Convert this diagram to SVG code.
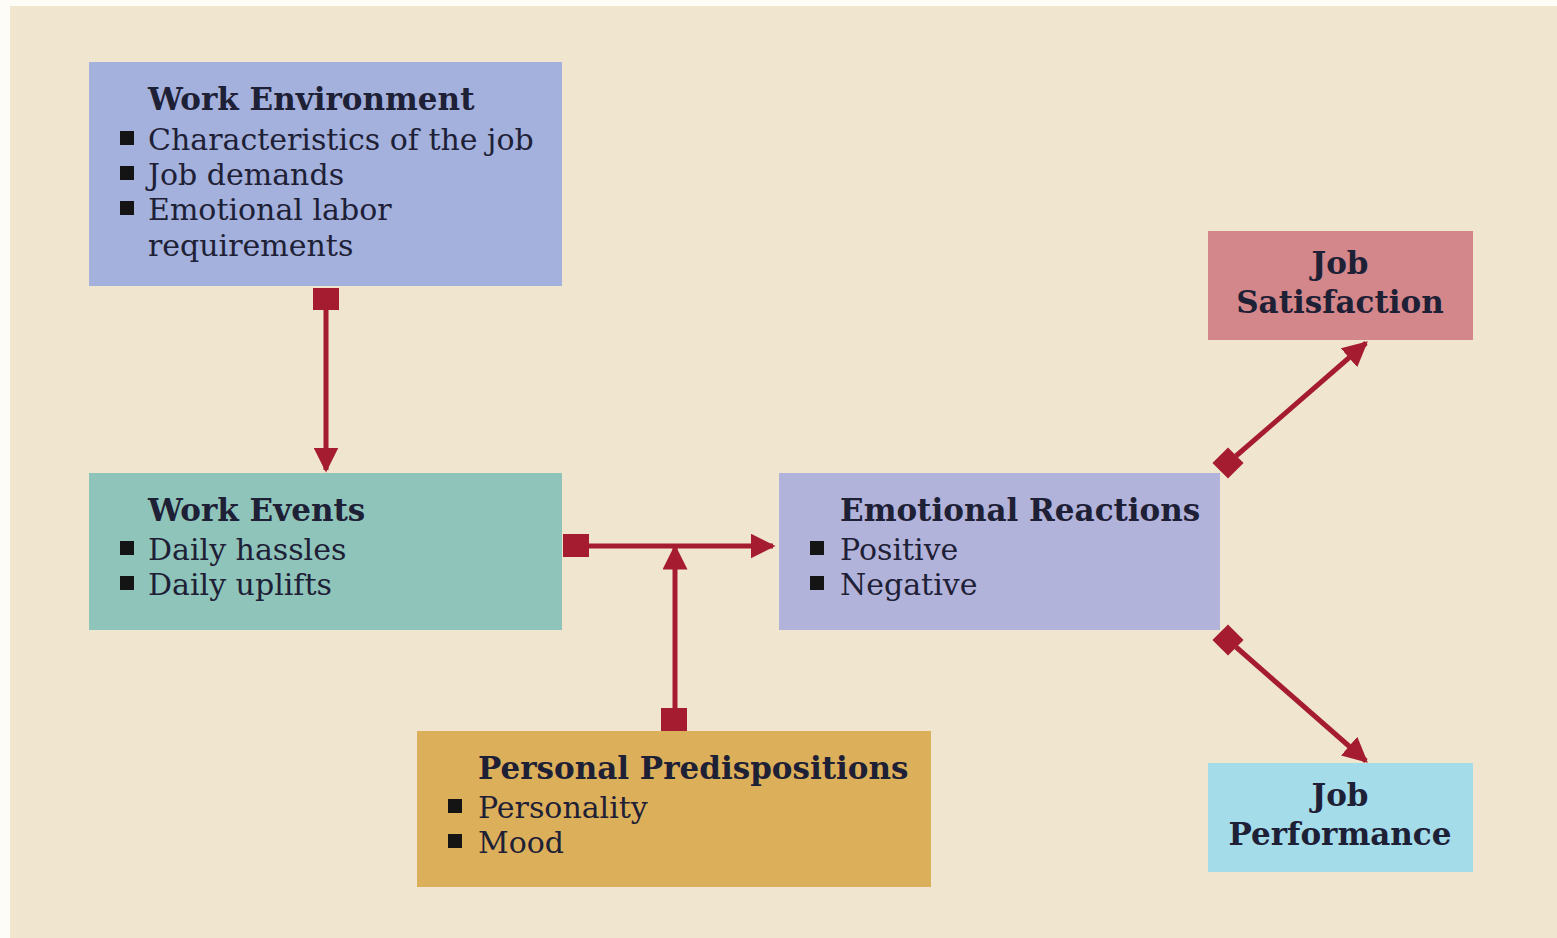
<svg xmlns="http://www.w3.org/2000/svg" width="1557" height="938" viewBox="0 0 1557 938">
<defs>
<style>
.t{font-family:"DejaVu Serif","Liberation Serif",serif;font-size:30px;fill:#1e2036}
.b{font-weight:bold;font-size:31px}
.c{stroke:#a51c30;stroke-width:5;fill:none}
.bul{fill:#141414}
</style>
<marker id="ah" viewBox="0 0 10 10" refX="9" refY="5" markerWidth="5" markerHeight="5" orient="auto" markerUnits="strokeWidth">
<path d="M0,0 L10,5 L0,10 z" fill="#a51c30"/>
</marker>
</defs>
<rect x="0" y="0" width="1557" height="938" fill="#fefcf6"/>
<rect x="10" y="6" width="1547" height="932" fill="#f0e6d0"/>

<g id="work-environment">
<rect x="89" y="62" width="473" height="224" fill="#a3b1dc"/>
<text class="t b" x="148" y="110">Work Environment</text>
<rect class="bul" x="120" y="131" width="14" height="14"/>
<text class="t" x="148" y="150">Characteristics of the job</text>
<rect class="bul" x="120" y="166" width="14" height="14"/>
<text class="t" x="148" y="185">Job demands</text>
<rect class="bul" x="120" y="201" width="14" height="14"/>
<text class="t" x="148" y="220">Emotional labor</text>
<text class="t" x="148" y="256">requirements</text>
</g>

<g id="work-events">
<rect x="89" y="473" width="473" height="157" fill="#8ec4ba"/>
<text class="t b" x="148" y="521">Work Events</text>
<rect class="bul" x="120" y="541" width="14" height="14"/>
<text class="t" x="148" y="560">Daily hassles</text>
<rect class="bul" x="120" y="576" width="14" height="14"/>
<text class="t" x="148" y="595">Daily uplifts</text>
</g>

<g id="emotional-reactions">
<rect x="779" y="473" width="441" height="157" fill="#b2b3da"/>
<text class="t b" x="840" y="521">Emotional Reactions</text>
<rect class="bul" x="810" y="541" width="14" height="14"/>
<text class="t" x="840" y="560">Positive</text>
<rect class="bul" x="810" y="576" width="14" height="14"/>
<text class="t" x="840" y="595">Negative</text>
</g>

<g id="personal-predispositions">
<rect x="417" y="731" width="514" height="156" fill="#dcaf5a"/>
<text class="t b" x="478" y="779">Personal Predispositions</text>
<rect class="bul" x="448" y="799" width="14" height="14"/>
<text class="t" x="478" y="818">Personality</text>
<rect class="bul" x="448" y="834" width="14" height="14"/>
<text class="t" x="478" y="853">Mood</text>
</g>

<g id="job-satisfaction">
<rect x="1208" y="231" width="265" height="109" fill="#d4878a"/>
<text class="t b" x="1340" y="274" text-anchor="middle">Job</text>
<text class="t b" x="1340" y="313" text-anchor="middle">Satisfaction</text>
</g>

<g id="job-performance">
<rect x="1208" y="763" width="265" height="109" fill="#a4dcea"/>
<text class="t b" x="1340" y="806" text-anchor="middle">Job</text>
<text class="t b" x="1340" y="845" text-anchor="middle">Performance</text>
</g>

<g id="connectors" fill="#a51c30">
<rect x="313" y="288" width="26" height="22"/>
<line class="c" x1="326" y1="310" x2="326" y2="470" marker-end="url(#ah)"/>
<rect x="563" y="534" width="26" height="23"/>
<line class="c" x1="589" y1="546" x2="773" y2="546" marker-end="url(#ah)"/>
<rect x="661" y="708" width="26" height="23"/>
<line class="c" x1="675" y1="708" x2="675" y2="547" marker-end="url(#ah)"/>
<rect x="1217" y="452" width="22" height="22" transform="rotate(45 1228 463)"/>
<line class="c" x1="1236" y1="456" x2="1366" y2="343" marker-end="url(#ah)"/>
<rect x="1217" y="629" width="22" height="22" transform="rotate(45 1228 640)"/>
<line class="c" x1="1236" y1="647" x2="1366" y2="761" marker-end="url(#ah)"/>
</g>
</svg>
